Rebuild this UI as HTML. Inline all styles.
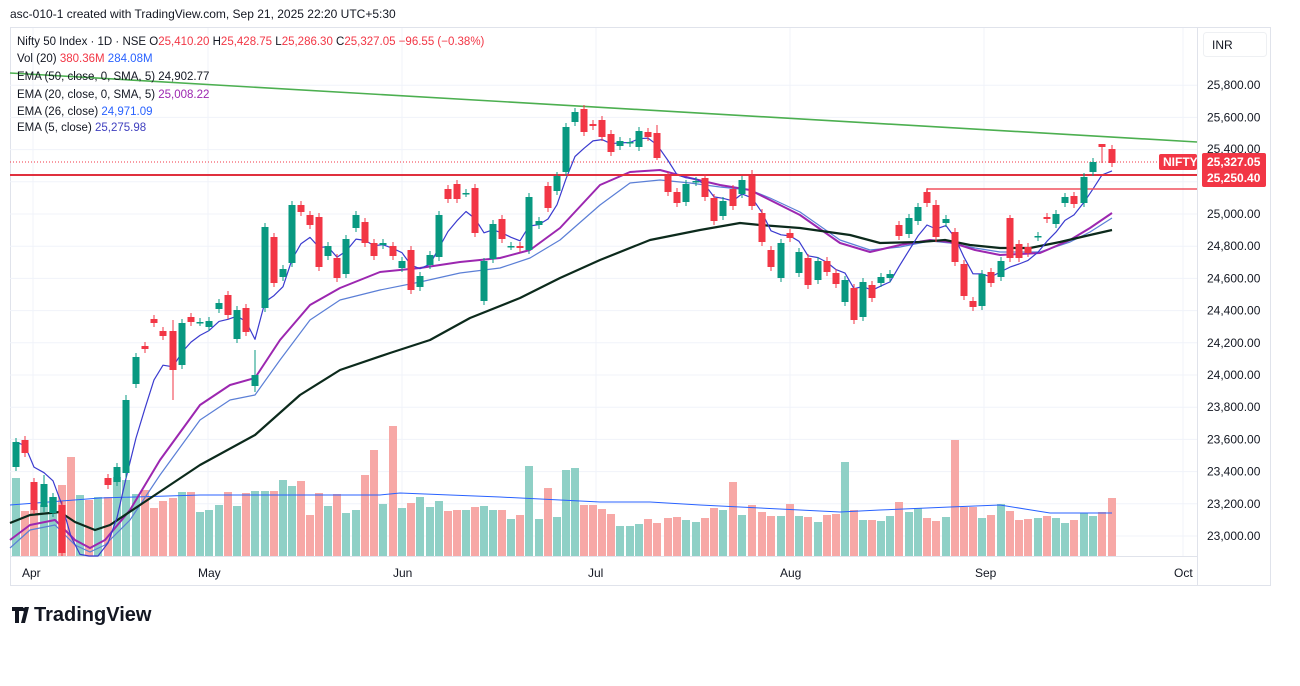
<!DOCTYPE html>
<html><head><meta charset="utf-8"><style>
html,body{margin:0;padding:0;background:#fff;width:1300px;height:686px;overflow:hidden;font-family:"Liberation Sans",sans-serif}
</style></head><body>
<svg id="s" width="1300" height="686" xmlns="http://www.w3.org/2000/svg" font-family="Liberation Sans, sans-serif">
<text x="10" y="18" font-size="12" fill="#131722">asc-010-1 created with TradingView.com, Sep 21, 2025 22:20 UTC+5:30</text>
<rect x="10.5" y="27.5" width="1260" height="558" fill="none" stroke="#e0e3eb"/>
<line x1="1197.5" y1="28" x2="1197.5" y2="586" stroke="#e0e3eb"/>
<line x1="10" y1="556.5" x2="1197" y2="556.5" stroke="#e0e3eb"/>
<g id="grid" stroke="#f0f3fa"></g>
<g id="vol"></g>
<g id="lines"></g>
<g id="candles"></g>
<rect x="1203.5" y="32.5" width="63" height="24" rx="3" fill="#fff" stroke="#eef0f3"/>
<text x="1212" y="49" font-size="12" fill="#131722">INR</text>
<g id="axis" font-size="12" fill="#131722"></g>
<rect x="1159" y="154" width="38" height="16" rx="2" fill="#f23645"/>
<text x="1163" y="166" font-size="12" font-weight="bold" fill="#fff">NIFTY</text>
<rect x="1202" y="153" width="64" height="34" rx="2" fill="#f23645"/>
<text x="1207" y="166" font-size="12" font-weight="bold" fill="#fff">25,327.05</text>
<text x="1207" y="182" font-size="12" font-weight="bold" fill="#fff">25,250.40</text>
<g font-size="12" fill="#131722">
<text x="22" y="577">Apr</text><text x="198" y="577">May</text><text x="393" y="577">Jun</text>
<text x="588" y="577">Jul</text><text x="780" y="577">Aug</text><text x="975" y="577">Sep</text><text x="1174" y="577">Oct</text>
</g>
<g font-size="11.5">
<text x="17" y="45" fill="#131722">Nifty 50 Index · 1D · NSE <tspan fill="#131722">O</tspan><tspan fill="#f23645">25,410.20</tspan> H<tspan fill="#f23645">25,428.75</tspan> L<tspan fill="#f23645">25,286.30</tspan> C<tspan fill="#f23645">25,327.05 −96.55 (−0.38%)</tspan></text>
<text x="17" y="62" fill="#131722">Vol (20) <tspan fill="#f23645">380.36M</tspan> <tspan fill="#2962ff">284.08M</tspan></text>
<text x="17" y="80" fill="#131722">EMA (50, close, 0, SMA, 5) 24,902.77</text>
<text x="17" y="98" fill="#131722">EMA (20, close, 0, SMA, 5) <tspan fill="#9c27b0">25,008.22</tspan></text>
<text x="17" y="115" fill="#131722">EMA (26, close) <tspan fill="#2962ff">24,971.09</tspan></text>
<text x="17" y="131" fill="#131722">EMA (5, close) <tspan fill="#3f3fbf">25,275.98</tspan></text>
</g>
<g transform="translate(12,605)">
<path d="M0 2h11v4h-4v12h-4v-12h-3z M13 2h4l-4 16h-4z" fill="#131722"/>
<circle cx="12.5" cy="4.5" r="2" fill="#131722"/>
<text x="22" y="16" font-size="20" font-weight="bold" fill="#131722">TradingView</text>
</g>
</svg>
<script>
var NS="http://www.w3.org/2000/svg";
function el(p,t,a){var e=document.createElementNS(NS,t);for(var k in a)e.setAttribute(k,a[k]);document.getElementById(p).appendChild(e);return e;}
// grid + axis
for(var p=23000;p<=25800;p+=200){var y=214+(25000-p)*0.161;el('grid','line',{x1:10,x2:1197,y1:y,y2:y});
 if(p!=25400&&p!=25200){var t=el('axis','text',{x:1207,y:y+4});t.textContent=(p/1000|0)+','+String(p%1000).padStart(3,'0')+'.00';}}
var t=el('axis','text',{x:1207,y:153});t.textContent='25,400.00';
[33,208,402,596,790,984,1183].forEach(function(x){el('grid','line',{x1:x,x2:x,y1:28,y2:556});});
// candles [x,open,close]
var C=[[16,467,442],[25,440,453],[34,482,510],[44,507,484],[53,513,497],[62,505,553],[71,560,600],[80,600,590],[89,590,610],[98,610,570],
[108,478,485],[117,482,467],[126,473,400],[136,384,357],[145,346,349],[154,319,323],[163,331,336],[173,331,370],[182,365,323],[191,317,322],
[200,322,322],[209,327,321],[219,309,303],[228,295,315],[237,339,310],[246,308,332],[255,386,375],[265,308,227],[274,237,283],[283,277,269],
[292,263,205],[301,205,212],[310,215,225],[319,217,267],[328,256,246],[337,258,278],[346,274,239],[356,228,215],[365,222,243],[374,243,256],
[383,245,243],[393,246,256],[402,268,261],[411,250,290],[420,287,276],[430,265,255],[439,257,215],[448,189,199],[457,184,199],[466,193,193],
[475,188,233],[484,301,261],[493,259,224],[502,219,239],[511,246,246],[520,246,248],[529,250,197],[539,225,221],[548,186,208],[557,191,176],
[566,172,127],[575,122,112],[584,109,132],[593,124,126],[602,120,137],[611,134,152],[620,146,141],[630,143,142],[639,147,131],[648,132,137],
[657,133,158],[668,176,192],[677,192,203],[686,202,184],[696,182,181],[705,178,197],[714,198,221],[723,216,201],[733,189,206],[742,194,180],
[752,176,206],[762,213,242],[771,250,267],[781,278,243],[790,233,238],[799,273,252],[808,258,285],[818,280,261],[827,261,272],[836,273,284],
[845,302,280],[854,288,320],[863,317,282],[872,285,298],[881,283,277],[890,278,274],[899,225,236],[909,234,218],[918,221,207],[927,192,203],
[936,205,237],[946,223,219],[955,232,262],[964,264,296],[973,301,307],[982,306,274],[991,272,283],[1001,277,261],[1010,218,258],[1019,244,258],
[1028,247,253],[1038,237,236],[1047,217,219],[1056,224,214],[1065,203,197],[1074,196,204],[1084,203,177],[1093,172,162],[1102,144,147],[1112,149,163]];
var longw={173:[320,400],255:[350,392],126:[395,478],1102:[144,163],1010:[215,262],936:[200,242],484:[258,305],752:[170,210],657:[125,160],44:[475,512]};
var G='#089981',R='#f23645';
var vt={16:478,25:511,34:510,44:505,53:497,62:485,71:457,80:495,89:500,98:497,108:497,117:477,126:480,136:494,145:490,154:508,163:501,173:498,182:492,191:492,
200:512,209:510,219:505,228:492,237:506,246:493,255:491,265:491,274:491,283:480,292:486,301:481,310:515,319:493,328:506,337:494,346:513,356:510,365:475,374:450,383:504,393:426,402:508,411:503,420:497,430:507,439:501,448:511,457:510,466:510,475:507,484:506,493:510,502:510,511:519,520:515,529:466,539:519,548:488,557:517,566:470,575:468,
584:505,593:505,602:509,611:514,620:526,630:526,639:524,648:519,657:523,668:518,677:517,686:520,696:522,705:518,714:508,723:510,733:482,742:515,752:505,762:512,771:516,781:516,790:504,799:516,808:517,818:522,827:515,836:514,845:462,854:510,863:520,872:520,881:521,890:516,899:502,909:512,918:508,927:518,936:521,946:517,953:440,955:440,964:507,973:507,982:518,991:515,1001:504,1010:511,1019:520,1028:519,1038:518,1047:516,1056:518,1065:523,1074:520,1084:513,1093:516,1102:512,1112:498};
C.forEach(function(c){var x=c[0],o=c[1],cl=c[2],col=cl<=o?G:R;
 var v=vt[x]||510;el('vol','rect',{x:x-4,y:v,width:8,height:556-v,fill:col==G?'#8fd0c6':'#f7a8a6'});
 if(o>555&&cl>555)return;
 var top=Math.min(o,cl),bot=Math.max(o,cl),w=longw[x]||[top-4,bot+4];
 el('candles','line',{x1:x,x2:x,y1:w[0],y2:Math.min(w[1],556),stroke:col,'stroke-width':1});
 el('candles','rect',{x:x-3.5,y:top,width:7,height:Math.max(Math.min(bot,556)-top,1.5),fill:col});});
function pl(pts,col,w){el('lines','polyline',{points:pts,fill:'none',stroke:col,'stroke-width':w,'stroke-linejoin':'round'});}
// vol MA
pl("10,505 100,498 200,495 300,495 380,495 400,493 500,497 600,502 650,502 700,505 760,508 840,512 880,510 950,507 1000,505 1050,513 1112,513",'#2962ff',1);
pl("10,548 30,530 55,525 75,545 90,552 105,545 130,520 160,475 200,420 230,400 255,395 280,360 310,320 340,300 380,290 420,282 460,273 500,268 530,258 560,240 600,205 630,183 660,180 690,183 720,187 750,190 770,198 800,212 840,240 870,250 900,247 930,241 950,243 975,248 1000,252 1040,252 1070,242 1090,232 1112,218",'#5b7fd6',1.2);
pl("10,540 30,525 55,520 75,540 90,548 105,540 130,510 160,460 200,405 230,385 255,378 280,340 310,305 340,288 380,272 420,268 460,262 500,258 530,250 560,228 600,185 630,172 660,170 690,178 720,185 750,190 770,200 800,215 840,243 870,252 900,245 930,240 950,242 975,250 1000,255 1040,253 1070,240 1090,228 1112,213",'#9c27b0',2);
pl("10,523 30,515 60,512 75,522 95,530 110,525 140,505 200,465 255,435 300,395 340,370 390,353 430,340 470,318 520,298 560,278 600,260 650,240 700,230 740,223 760,225 800,228 850,235 880,243 920,242 945,240 970,245 1000,248 1030,248 1060,242 1090,235 1112,230",'#0c2a1c',2.2);
// EMA5
var e=C[0][2],pts=[];C.forEach(function(c){e=e+(c[2]-e)/3;pts.push(c[0]+','+Math.min(e,556).toFixed(1));});
pl(pts.join(' '),'#3b3bcf',1.2);
// trend & levels
el('lines','line',{x1:10,y1:73,x2:1197,y2:142,stroke:'#4caf50','stroke-width':1.6});
el('lines','line',{x1:10,y1:175,x2:1197,y2:175,stroke:'#e0303e','stroke-width':2});
el('lines','line',{x1:927,y1:189,x2:1197,y2:189,stroke:'#f0505e','stroke-width':1.6});
el('lines','line',{x1:927,y1:189,x2:927,y2:194,stroke:'#f0505e','stroke-width':1.6});
el('lines','line',{x1:10,y1:162,x2:1197,y2:162,stroke:'#f23645','stroke-width':1,'stroke-dasharray':'1 2'});
</script>
</body></html>
